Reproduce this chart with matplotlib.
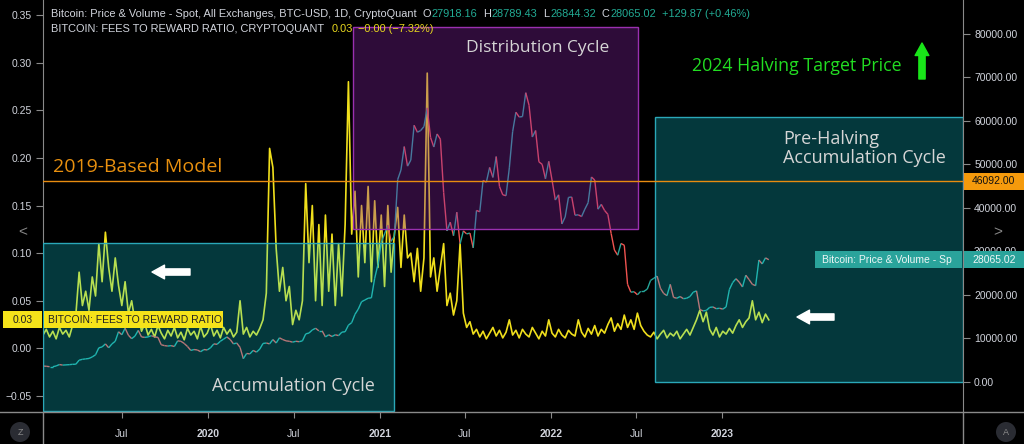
import matplotlib
matplotlib.use('Agg')
import matplotlib.pyplot as plt
import matplotlib.dates as mdates
from matplotlib.collections import LineCollection
from matplotlib.patches import Rectangle, Ellipse, FancyArrowPatch
from matplotlib.lines import Line2D
from matplotlib.colors import to_rgba
from matplotlib.ticker import FuncFormatter
import numpy as np
import pandas as pd

# weekly samples, first week starting 2019-01-14
start_date = '2019-01-14'

fee_ratio_2019 = [0.014, 0.020, 0.012, 0.018, 0.010, 0.022, 0.015, 0.019, 0.012, 0.024,
                  0.035, 0.080, 0.045, 0.060, 0.040, 0.075, 0.055,
                  0.110, 0.070, 0.122, 0.085, 0.060, 0.095, 0.066,
                  0.045, 0.070, 0.037, 0.050, 0.028, 0.035,
                  0.018, 0.026, 0.014, 0.020, 0.012, 0.024, 0.016, 0.010, 0.019, 0.013,
                  0.022, 0.011, 0.017, 0.009, 0.021, 0.014, 0.018, 0.010, 0.023, 0.012, 0.016]
fee_ratio_2020 = [0.025, 0.013, 0.019, 0.011, 0.022, 0.015, 0.020, 0.012, 0.017,
                  0.050,
                  0.015, 0.022, 0.012, 0.018, 0.014, 0.021, 0.030,
                  0.058, 0.210, 0.190,
                  0.105, 0.060, 0.085, 0.050, 0.065, 0.025,
                  0.040, 0.030, 0.050, 0.173,
                  0.090, 0.150, 0.050, 0.130, 0.045, 0.140,
                  0.060, 0.120, 0.045, 0.110, 0.055, 0.130,
                  0.280, 0.120,
                  0.165, 0.075, 0.150, 0.090, 0.170, 0.070, 0.155, 0.085]
fee_ratio_2021 = [0.140, 0.065, 0.150, 0.080, 0.120,
                  0.148, 0.085, 0.140, 0.095, 0.100, 0.070, 0.105, 0.060, 0.095,
                  0.289,
                  0.075, 0.095, 0.060, 0.085, 0.110,
                  0.045, 0.058, 0.035, 0.050, 0.110,
                  0.037, 0.022, 0.028,
                  0.015, 0.020, 0.012, 0.018, 0.010, 0.016, 0.022, 0.013, 0.019, 0.011, 0.017,
                  0.030,
                  0.014, 0.019, 0.011, 0.020, 0.015, 0.012, 0.022, 0.016, 0.010, 0.018, 0.013,
                  0.030]
fee_ratio_2022 = [0.016, 0.012, 0.020, 0.014, 0.011, 0.019, 0.015, 0.013,
                  0.030,
                  0.017, 0.012, 0.021, 0.015, 0.024, 0.013, 0.020, 0.016, 0.025,
                  0.032, 0.018, 0.026, 0.020,
                  0.035, 0.022, 0.030, 0.020, 0.037, 0.024, 0.018, 0.014,
                  0.012, 0.017, 0.010, 0.015, 0.019, 0.011, 0.016, 0.013, 0.018, 0.010,
                  0.015, 0.020, 0.014, 0.022,
                  0.030, 0.040, 0.028, 0.038,
                  0.020, 0.014, 0.022, 0.012]
fee_ratio_2023 = [0.018, 0.015, 0.021, 0.016, 0.024, 0.030, 0.022, 0.028, 0.032,
                  0.050, 0.030, 0.038, 0.027, 0.036, 0.030]

btc_2019 = [3600, 3550, 3450, 3450, 3620, 3950, 3820, 3870, 3920, 4000, 4020,
            4950, 5150, 5250, 5350, 5700, 6200, 7800, 8000, 8700,
            7800, 8700, 9300, 11500, 10800, 12300, 10700, 9900, 10500,
            11800, 10300, 10200, 10300, 10600, 10300, 10200, 8500, 8300,
            8200, 8300, 8100, 9400, 9300, 8800, 8100, 7200,
            7400, 7300, 6900, 7400, 7300]
btc_2020 = [7800, 8700, 8600, 9300, 9800, 10300, 9700, 8700,
            8900, 7900, 5300, 6500, 6400, 7200, 6800, 7500, 8800,
            8900, 8700, 9700, 8900, 10100, 9700, 9400, 9300, 9100,
            9300, 9200, 9400, 11000, 11200, 11900, 12300, 11700, 11700,
            10300, 10800, 10400, 10800, 10600, 11400, 11500, 13000,
            13600, 15500, 16700, 18400, 18800, 19200, 19300, 23800, 27000]
btc_2021 = [32000, 34000, 36000, 32300, 33500, 46500, 48700, 54100,
            49600, 51000, 59000, 57400, 57800, 58700, 63000, 56200, 54000,
            57000, 55800, 43500, 34700, 36700, 33600, 39000, 31700, 34700,
            34000, 34200, 30800, 39400, 39100, 46300, 45900, 49300, 47000,
            51800, 44900, 43000, 42800, 49200, 57500, 62000, 60900,
            61000, 66500, 63600, 56300, 57800, 50600, 50000, 46700, 50700]
btc_2022 = [46400, 41800, 43000, 36300, 37900, 42400, 42500, 38300, 38400,
            38000, 39700, 41200, 47100, 46400, 39700, 40800, 39400,
            38500, 34100, 30300, 29100, 31800, 31400, 22400, 20600, 20700,
            20000, 20800, 20800, 21300, 23300, 23800, 24300, 21500, 20300,
            19800, 22400, 19400, 19200, 19600, 19100, 19200, 19600, 20600,
            20900, 16600, 16300, 16400, 17100, 17200, 16800, 16900]
btc_2023 = [16700, 17200, 21200, 22800, 23700, 22900, 21800, 24500, 23500,
            22400, 22100, 28000, 27100, 28500, 28065.02]

model_price = 46092.00
last_price = 28065.02
last_fee = 0.03

x_ticks = ['2019-07-01', '2020-01-01', '2020-07-01', '2021-01-01',
           '2021-07-01', '2022-01-01', '2022-07-01', '2023-01-01']
x_tick_labels = ['Jul', '2020', 'Jul', '2021', 'Jul', '2022', 'Jul', '2023']

fees = fee_ratio_2019 + fee_ratio_2020 + fee_ratio_2021 + fee_ratio_2022 + fee_ratio_2023
price = btc_2019 + btc_2020 + btc_2021 + btc_2022 + btc_2023

W, H = 1024, 444
plt.rcParams['font.family'] = ['Liberation Sans', 'DejaVu Sans']
fig = plt.figure(figsize=(W / 100, H / 100), dpi=100, facecolor='black')
ax = fig.add_axes([43 / W, 32 / H, 920 / W, 412 / H])
ax.set_facecolor('black')
ax2 = ax.twinx()

def dn(s):
    return mdates.date2num(pd.Timestamp(s))

xf = mdates.date2num(pd.date_range(start_date, periods=len(fees), freq='7D'))
xp = mdates.date2num(pd.date_range(start_date, periods=len(price), freq='7D'))

ax.plot(xf, fees, color='#f0df1c', lw=1.2, zorder=2)

pts = np.column_stack([xp, price])
segs = np.stack([pts[:-1], pts[1:]], axis=1)
cols = ['#26a69a' if b >= a else '#ef5350' for a, b in zip(price[:-1], price[1:])]
ax2.add_collection(LineCollection(segs, colors=cols, linewidths=1.0, zorder=2))

ax.set_xlim(dn('2019-01-14'), dn('2024-05-28'))
ax.set_ylim(-0.0668, 0.3658)
ax2.set_ylim(-6972, 87823)

# shaded cycle boxes (drawn above the series)
teal_fc = to_rgba('#10e0f0', 0.25)
purp_fc = to_rgba('#8625a6', 0.35)
boxes = [(dn('2019-01-14'), dn('2021-01-31'), -6740, 31915, teal_fc, '#2aa8b8'),
         (dn('2020-11-05'), dn('2022-07-06'), 35140, 81600, purp_fc, '#9a30b0'),
         (dn('2022-08-10'), dn('2024-05-28'), 0, 60900, teal_fc, '#2aa8b8')]
for x0, x1, y0, y1, fc, ec in boxes:
    ax2.add_patch(Rectangle((x0, y0), x1 - x0, y1 - y0, facecolor=fc,
                            edgecolor=ec, lw=1.0, zorder=3))

ax2.axhline(model_price, color='#e88c10', lw=1.0, zorder=4)

# axes styling
for a in (ax, ax2):
    for s in a.spines.values():
        s.set_visible(False)
ax.spines['left'].set_visible(True)
ax.spines['left'].set_color('#8a8a8a')
ax2.spines['right'].set_visible(True)
ax2.spines['right'].set_color('#8a8a8a')

ax.set_yticks(np.arange(-0.05, 0.351, 0.05))
ax.yaxis.set_major_formatter(FuncFormatter(lambda v, p: f'{round(v, 2):.2f}'.replace('-', '\u2212')))
ax2.set_yticks(np.arange(0, 80001, 10000))
ax2.yaxis.set_major_formatter(FuncFormatter(lambda v, p: f'{v:.2f}'))
ax.tick_params(axis='y', colors='#8a8a8a', labelcolor='#d1d4dc', labelsize=7.5, length=5, pad=3)
ax2.tick_params(axis='y', colors='#8a8a8a', labelcolor='#d1d4dc', labelsize=7.5, length=5, pad=3)

ax.set_xticks([dn(t) for t in x_ticks])
ax.set_xticklabels(x_tick_labels)
ax.tick_params(axis='x', colors='#8a8a8a', labelcolor='#d1d4dc', labelsize=7.5, length=4, pad=8)
for lab in ax.get_xticklabels():
    if lab.get_text() != 'Jul':
        lab.set_fontweight('bold')

# frame lines of the bottom time scale
fig.add_artist(Line2D([0, 1], [32 / H, 32 / H], transform=fig.transFigure, color='#8a8a8a', lw=1))
for xx in (43, 963):
    fig.add_artist(Line2D([xx / W, xx / W], [0, 32 / H], transform=fig.transFigure, color='#8a8a8a', lw=1))

def ptext(x, y, s, **kw):
    return fig.text(x / W, 1 - y / H, s, va='center', **kw)

fig.canvas.draw()
rend = fig.canvas.get_renderer()

def seq(x, y, parts, fs=8):
    for s, c, gap in parts:
        t = ptext(x, y, s, fontsize=fs, color=c)
        x += t.get_window_extent(rend).width + gap

# header
wt, gr, yl = '#d1d4dc', '#22ab94', '#e8d81e'
seq(51, 14, [('Bitcoin: Price & Volume - Spot, All Exchanges, BTC-USD, 1D, CryptoQuant', wt, 6),
             ('O', wt, 0.5), ('27918.16', gr, 6), ('H', wt, 0.5), ('28789.43', gr, 6),
             ('L', wt, 0.5), ('26844.32', gr, 6), ('C', wt, 0.5), ('28065.02', gr, 6),
             ('+129.87 (+0.46%)', gr, 0)], fs=7.9)
seq(51, 29, [('BITCOIN: FEES TO REWARD RATIO, CRYPTOQUANT', wt, 8),
             ('0.03', yl, 5), ('\u22120.00 (\u22127.32%)', yl, 0)], fs=7.9)

# annotations
big = ['Open Sans', 'DejaVu Sans']
ptext(53, 167, '2019-Based Model', fontsize=14, color='#e8900f', family=big)
ptext(538, 48, 'Distribution Cycle', fontsize=12.5, color='#d6d6d6', family=big, ha='center')
ptext(212, 386, 'Accumulation Cycle', fontsize=13, color='#d6d6d6', family=big)
ptext(783, 139, 'Pre-Halving', fontsize=13, color='#d6d6d6', family=big)
ptext(783, 158, 'Accumulation Cycle', fontsize=13, color='#d6d6d6', family=big)
ptext(692, 66, '2024 Halving Target Price', fontsize=12.8, color='#22dd22', family=big)

def arrow(x0, y0, x1, y1, color):
    fig.add_artist(FancyArrowPatch(
        (x0 / W, 1 - y0 / H), (x1 / W, 1 - y1 / H), transform=fig.transFigure,
        arrowstyle='simple,head_width=0.55,head_length=0.5,tail_width=0.25',
        mutation_scale=18, color=color, shrinkA=0, shrinkB=0, zorder=7))

arrow(190, 272, 152, 272, 'white')
arrow(834, 317, 797, 317, 'white')
arrow(922, 79, 922, 43, '#19e619')

# price / value tags on the scales
def tag(x0, x1, yc, fc):
    fig.add_artist(Rectangle((x0 / W, (yc - 8.5) / H), (x1 - x0) / W, 17 / H,
                             transform=fig.transFigure, facecolor=fc, edgecolor='none', zorder=8))

y_model = ax2.transData.transform((0, model_price))[1]
y_last = ax2.transData.transform((0, last_price))[1]
y_fee = ax.transData.transform((0, last_fee))[1]

tag(964, 1024, y_model, '#f59a0c')
fig.text(972 / W, y_model / H, f'{model_price:.2f}', fontsize=7.5, color='#111111', va='center', zorder=9)
tag(815, 962, y_last, '#2aa39b')
tag(964, 1024, y_last, '#2aa39b')
fig.text(822 / W, y_last / H, 'Bitcoin: Price & Volume - Sp', fontsize=7.5, color='#eef6f6', va='center', zorder=9)
fig.text(972 / W, y_last / H, f'{last_price:.2f}', fontsize=7.5, color='#eef6f6', va='center', zorder=9)
tag(3, 42, y_fee, '#f5e31a')
tag(44, 223, y_fee, '#f5e31a')
fig.text(23 / W, y_fee / H, f'{last_fee:.2f}', fontsize=7.5, color='#222222', va='center', ha='center', zorder=9)
fig.text(48 / W, y_fee / H, 'BITCOIN: FEES TO REWARD RATIO', fontsize=7.5, color='#222222', va='center', zorder=9)

# small ui glyphs
ptext(23, 232, '<', fontsize=11, color='#888888', ha='center')
ptext(998, 232, '>', fontsize=11, color='#888888', ha='center')
for cx, s in [(20, 'Z'), (1006, 'A')]:
    fig.add_artist(Ellipse((cx / W, 12 / H), 20 / W, 20 / H, transform=fig.transFigure,
                           facecolor='#2a2c33', edgecolor='none'))
    ptext(cx, 432, s, fontsize=6.5, color='#8a8a8a', ha='center')

fig.savefig('out.png', dpi=100, facecolor='black')
